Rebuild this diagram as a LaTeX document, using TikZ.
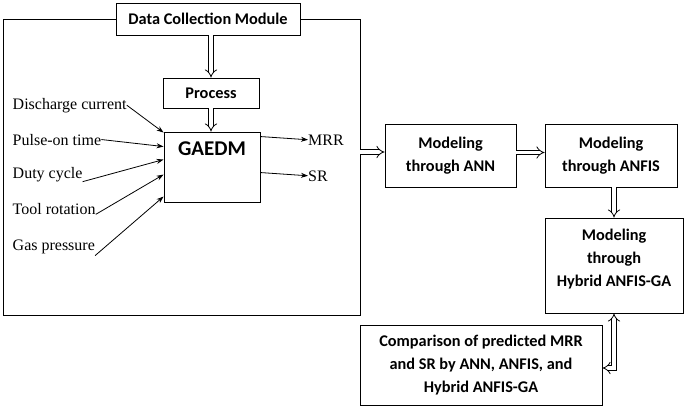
\documentclass[tikz,border=0pt]{standalone}
\usepackage{fontspec}
\setmainfont{Liberation Serif}
\newfontfamily\boxfont{Carlito}
\usetikzlibrary{arrows.meta}

\tikzset{
  box/.style={draw, line width=0.9pt, fill=white, inner sep=0pt, align=center,
    font=\boxfont\bfseries\fontsize{16.3}{23}\selectfont},
  param/.style={anchor=base west, inner sep=0pt, font=\fontsize{16}{18}\selectfont},
  dbl/.style={double, double distance=3.5pt, line width=0.8pt, -{Implies[scale=1.3]}},
  sig/.style={line width=0.8pt, -{Stealth[length=7pt,width=5pt]}}
}

\begin{document}
\begin{tikzpicture}[x=1pt,y=-1pt]
  \useasboundingbox (0,0) rectangle (685,407);
  % left frame and its modules
  \node[draw, line width=0.9pt, minimum width=357pt, minimum height=296pt] (outer) at (181.5,167) {};
  \node[box, minimum width=184pt, minimum height=32pt] (dcm) at (208,19) {Data Collection Module};
  \node[box, minimum width=96pt, minimum height=30pt] (proc) at (211,93) {Process};
  \node[box, minimum width=96pt, text height=23pt, text depth=47pt,
    font=\boxfont\bfseries\fontsize{21}{24}\selectfont] (gaedm) at (212,167) {GAEDM};

  % process parameters
  \node[param] (dc) at (12.5,109) {Discharge current};
  \node[param] (pot) at (12.5,145) {Pulse-on time};
  \node[param] (duty) at (12.5,178) {Duty cycle};
  \node[param] (tool) at (12.5,214) {Tool rotation};
  \node[param] (gas) at (12.5,250) {Gas pressure};
  \node[param] (mrr) at (308,145) {MRR};
  \node[param] (sr) at (308,181) {SR};

  % modeling chain
  \node[box, minimum width=131pt, minimum height=63pt] (ann) at (450.5,155.5) {Modeling\\through ANN};
  \node[box, minimum width=132pt, minimum height=63pt] (anfis) at (611,155.5) {Modeling\\through ANFIS};
  \node[box, minimum width=138pt, minimum height=95pt] (hyb) at (614,265.5) {Modeling\\through\\Hybrid ANFIS-GA\\[-8pt]};
  \node[box, minimum width=242pt, minimum height=80pt] (comp) at (481,365) {Comparison of predicted MRR\\and SR by ANN, ANFIS, and\\Hybrid ANFIS-GA};

  \draw[sig] (dc.east) -- ([yshift=-1pt]gaedm.north west);
  \draw[sig] (pot.east) -- ([yshift=-15pt]gaedm.north west);
  \draw[sig] (duty.south east) -- ([yshift=-28pt]gaedm.north west);
  \draw[sig] (tool.south east) -- ([yshift=-43pt]gaedm.north west);
  \draw[sig] ([yshift=-2pt]gas.south east) -- ([yshift=-65pt]gaedm.north west);
  \draw[sig] ([yshift=-5pt]gaedm.north east) -- (mrr.west);
  \draw[sig] ([yshift=-41pt]gaedm.north east) -- (sr.west);

  \draw[dbl] (proc.north |- dcm.south) -- (proc.north);
  \draw[dbl] (proc.south) -- (proc.south |- gaedm.north);
  \draw[dbl] ([yshift=15pt]outer.east) coordinate (o) -- (o -| ann.west);
  \draw[dbl] ([yshift=3pt]ann.east) -- ([yshift=3pt]anfis.west);
  \draw[dbl] (hyb.north |- anfis.south) -- (hyb.north);
  \draw[dbl, {Implies[scale=1.3]}-{Implies[scale=1.3]}] ([yshift=-3pt]comp.east) -| (hyb.south);
\end{tikzpicture}
\end{document}
